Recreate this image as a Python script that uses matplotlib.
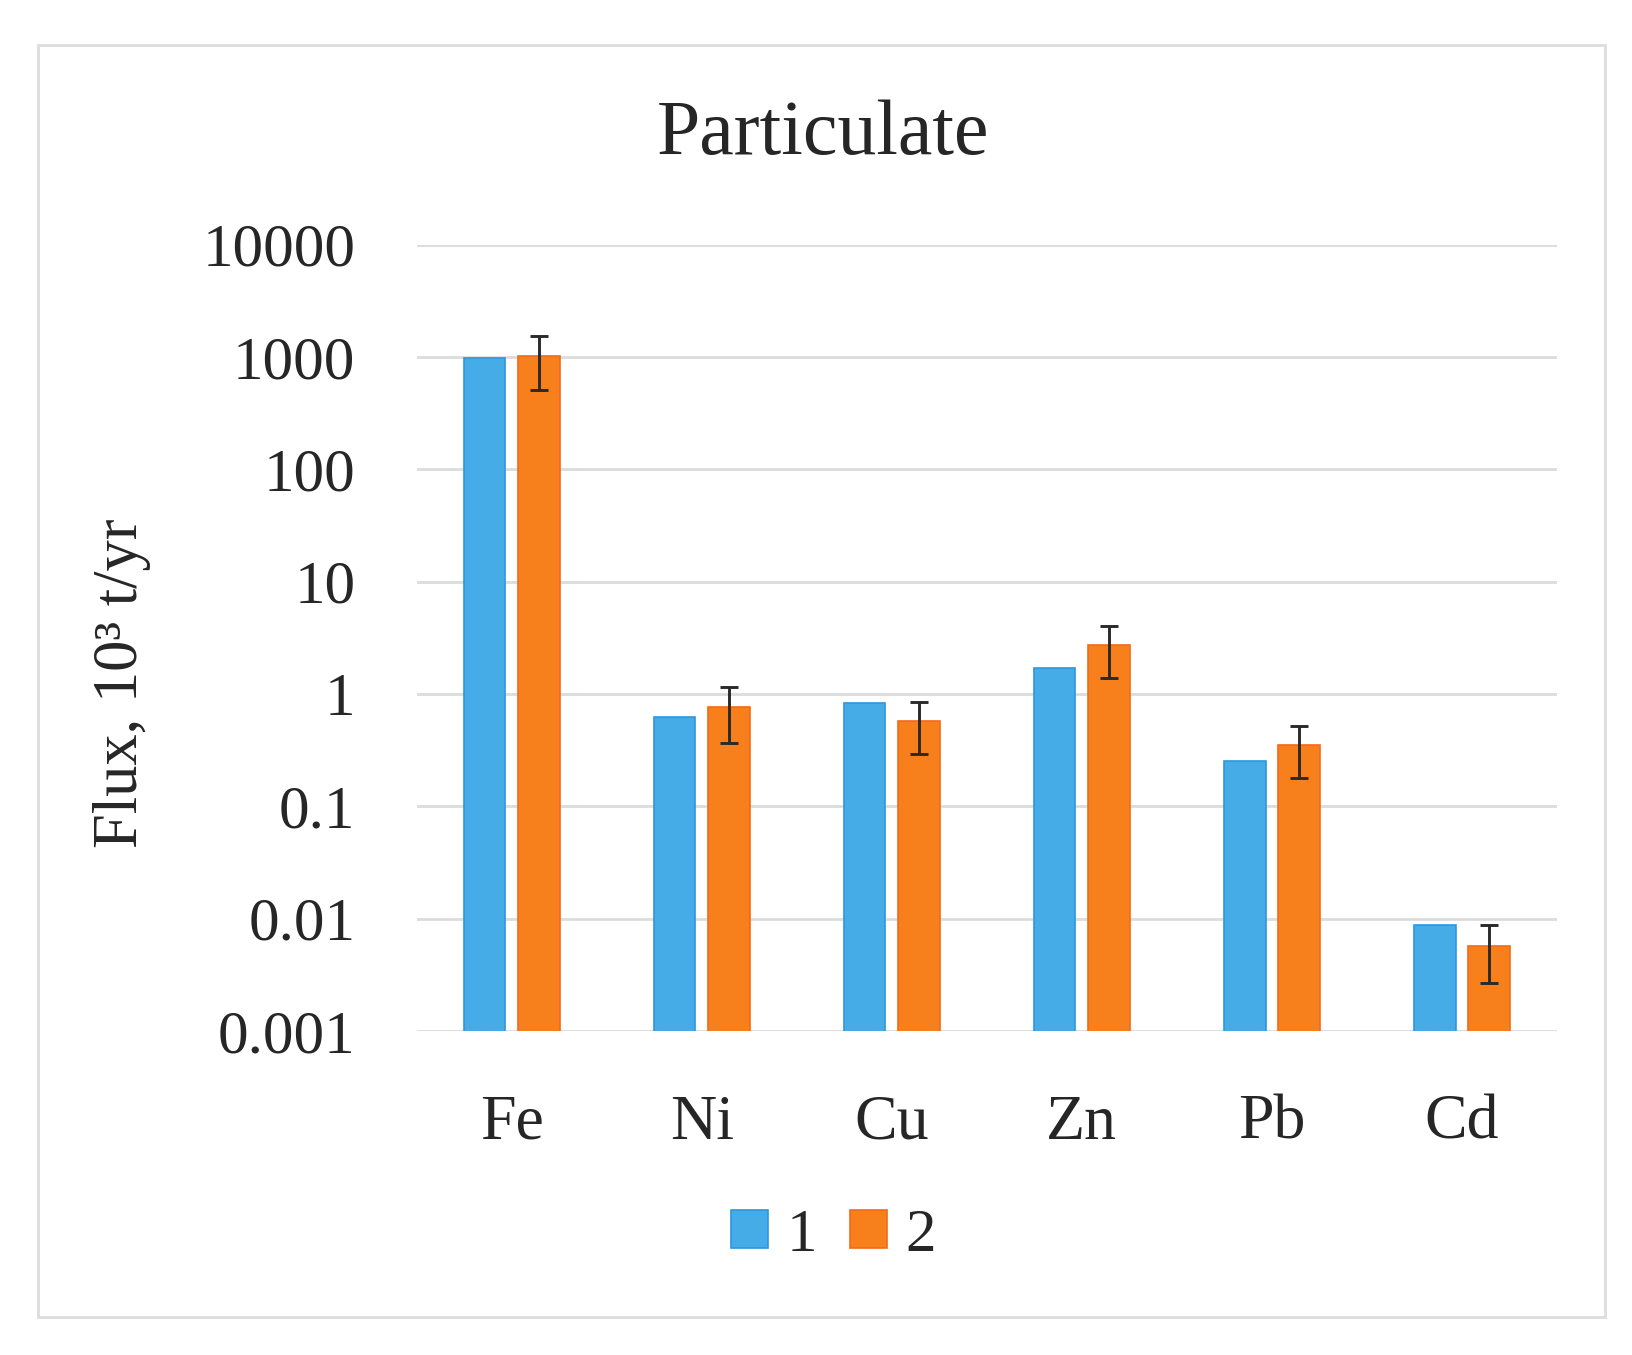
import matplotlib.pyplot as plt
from matplotlib.patches import Rectangle
import numpy as np

# data
elements = ['Fe', 'Ni', 'Cu', 'Zn', 'Pb', 'Cd']
flux_1 = [980, 0.62, 0.84, 1.70, 0.255, 0.0088]
flux_2 = [1020, 0.76, 0.57, 2.72, 0.35, 0.0057]
err_2 = [510, 0.39, 0.28, 1.33, 0.17, 0.003]
series_names = ['1', '2']
y_ticks = [0.001, 0.01, 0.1, 1, 10, 100, 1000, 10000]
y_tick_labels = ['0.001', '0.01', '0.1', '1', '10', '100', '1000', '10000']

blue = '#45ACE8'
blue_edge = '#2C97DE'
orange = '#F7801C'
orange_edge = '#F26A1A'

plt.rcParams['font.family'] = ['Liberation Serif', 'DejaVu Serif']

fig = plt.figure(figsize=(16.33, 13.55), dpi=100)
ax = fig.add_axes([0.2551, 0.2391, 0.6984, 0.5803])

x = np.arange(len(elements))
width = 0.219
offset = 0.143

ax.bar(x - offset, flux_1, width, color=blue, edgecolor=blue_edge, linewidth=1.2,
       label=series_names[0], zorder=3)
ax.bar(x + offset, flux_2, width, color=orange, edgecolor=orange_edge, linewidth=1.2,
       label=series_names[1], zorder=3)
ax.errorbar(x + offset, flux_2, yerr=err_2, fmt='none', ecolor='#2a2a2a',
            elinewidth=2.1, capsize=6.5, capthick=2.1, zorder=4)

ax.set_yscale('log')
ax.set_ylim(0.001, 10000)
ax.set_xlim(-0.5, len(elements) - 0.5)
ax.set_yticks(y_ticks)
ax.set_yticklabels(y_tick_labels)
ax.yaxis.set_minor_locator(plt.NullLocator())
ax.set_xticks(x)
ax.set_xticklabels(elements)
ax.tick_params(axis='y', length=0, pad=44, labelsize=44, labelcolor='#262626')
ax.tick_params(axis='x', length=0, pad=46, labelsize=46, labelcolor='#262626')

ax.grid(axis='y', color='#DCDCDC', linewidth=2, zorder=0)
for s in ax.spines.values():
    s.set_visible(False)

fig.text(0.504, 0.886, 'Particulate', ha='center', va='baseline', fontsize=56,
         color='#262626')
fig.text(0.075, 0.496, 'Flux, 10³ t/yr', rotation=90, ha='center', va='center',
         fontsize=45, color='#262626')

leg = fig.legend(loc='center', bbox_to_anchor=(0.5105, 0.088), ncol=2, frameon=False,
                 fontsize=44, handlelength=0.6, handleheight=0.6,
                 handletextpad=0.3, columnspacing=0.55)
for t in leg.get_texts():
    t.set_color('#262626')

fig.patches.append(Rectangle((38.5 / 1633, 1 - 1317.4 / 1355), (1605 - 38.5) / 1633,
                             (1317.4 - 44.8) / 1355, transform=fig.transFigure,
                             fill=False, edgecolor='#DDDDDD', linewidth=2))

fig.savefig('out.png', dpi=100)
